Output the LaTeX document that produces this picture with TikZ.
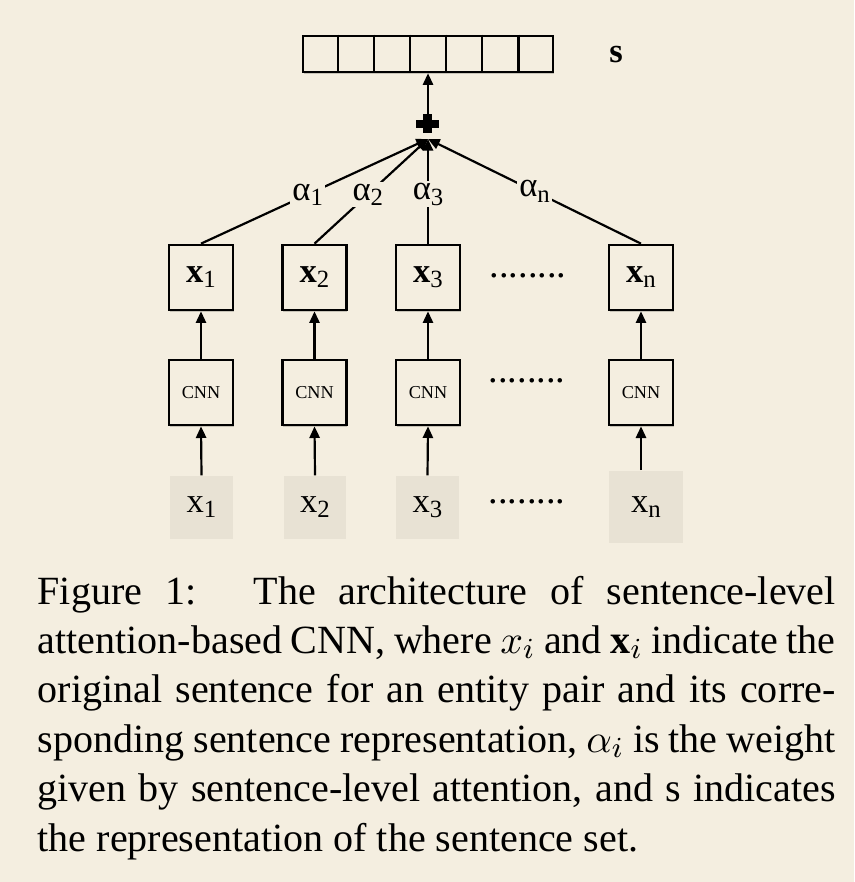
\documentclass[tikz,border=0pt]{standalone}
\usepackage{fontspec}
\setmainfont{Liberation Serif}
\usetikzlibrary{arrows.meta,shadows,calc}
\definecolor{bg}{HTML}{F4EEE0}
\definecolor{inbox}{HTML}{E8E2D4}
\newcommand{\subx}[1]{{\fontsize{6.8}{7}\selectfont\raisebox{-1.4pt}{#1}}}
\newcommand{\capline}[1]{\makebox[219.2pt][s]{#1}}
\begin{document}
\begin{tikzpicture}[x=0.2747pt,y=-0.2747pt,
  lw/.style={line width=0.6pt},
  arr/.style={lw,-{Triangle[length=3.2pt,width=2.8pt]}},
  shad/.style={drop shadow={shadow xshift=0.25pt,shadow yshift=-0.6pt,opacity=0.18,fill=black}},
  repbox/.style={draw,line width=0.7pt,fill=bg,shad,minimum width=17.6pt,minimum height=17.9pt,inner sep=0pt,font=\fontsize{9.5}{10}\selectfont},
  cnnbox/.style={repbox,font=\fontsize{5}{6}\selectfont},
  inbx/.style={fill=inbox,minimum width=17.3pt,minimum height=17.3pt,inner sep=0pt,font=\fontsize{9.5}{10}\selectfont},
  vecbox/.style={draw,line width=0.7pt,fill=bg,shad,minimum width=68.7pt,minimum height=9.9pt,inner sep=0pt},
  lab/.style={fill=bg,inner sep=0.6pt,font=\fontsize{9.5}{10}\selectfont},
  dotsn/.style={font=\fontsize{10.5}{11}\selectfont,inner sep=0pt},
  capn/.style={anchor=base west,inner sep=0pt,font=\fontsize{11}{13.6}\selectfont}]
\fill[bg] (0,0) rectangle (854,882);
\useasboundingbox (0,0) rectangle (854,882);

% sentence vector
\node[vecbox] (vec) at (428,54) {};
\foreach \i in {1,...,6}
  \draw[line width=0.7pt] ($(vec.north west)!\i/7!(vec.north east)$) -- ($(vec.south west)!\i/7!(vec.south east)$);
\node[font=\bfseries\fontsize{9.5}{10}\selectfont,inner sep=0pt] (s) at (616,55) {s};

% plus
\node[minimum width=5.8pt,minimum height=5pt,inner sep=0pt] (plus) at (428,124) {};
\fill (423,114) rectangle (432,133);
\fill (416,120) rectangle (439,128);
\coordinate (p) at (428,139);
\draw[arr] (plus.north) -- (vec.south);

% representation boxes
\node[repbox] (h1) at (201,277.5) {\textbf{x}\subx{1}};
\node[repbox] (h2) at (314.5,277.5) {\textbf{x}\subx{2}};
\node[repbox] (h3) at (428,277.5) {\textbf{x}\subx{3}};
\node[repbox] (h4) at (641,277.5) {\textbf{x}\subx{n}};

% CNN boxes
\node[cnnbox] (c1) at (201,392.5) {CNN};
\node[cnnbox] (c2) at (314.5,392.5) {CNN};
\node[cnnbox] (c3) at (428,392.5) {CNN};
\node[cnnbox] (c4) at (641,392.5) {CNN};

% input sentences
\node[inbx] (in1) at (201.5,507.5) {x\subx{1}};
\node[inbx] (in2) at (315,507.5) {x\subx{2}};
\node[inbx] (in3) at (427.5,507.5) {x\subx{3}};
\node[inbx,minimum width=20.3pt,minimum height=19.8pt] (in4) at (646,507) {x\subx{n}};

% dots
\node[dotsn] (d1) at (528,276) {........};
\node[dotsn] (d2) at (527,381) {........};
\node[dotsn] (d3) at (527,502) {........};

% arrows
\foreach \k in {1,2,3}{
  \draw[arr] (in\k.north) -- (c\k.south);
  \draw[arr] (c\k.north) -- (h\k.south);
}
\draw[arr] (in4.north -| c4.south) -- (c4.south);
\draw[arr] (c4.north) -- (h4.south);

\draw[arr] (h1.north) -- node[lab,pos=0.47] {α\subx{1}} (p);
\draw[arr] (h2.north) -- node[lab,pos=0.47] {α\subx{2}} (p);
\draw[arr] (h3.north) -- node[lab,pos=0.47] {α\subx{3}} (p);
\draw[arr] (h4.north) -- node[lab,pos=0.5] {α\subx{n}} (p);

% caption
\node[capn] (l1) at (37,604) {\capline{Figure~1:\hspace*{9.5pt} The architecture of sentence-level}};
\node[capn] (l2) at (37,653) {\capline{attention-based CNN, where $x_i$ and $\mathbf{x}_i$ indicate the}};
\node[capn] (l3) at (37,702.5) {\capline{original sentence for an entity pair and its corre-}};
\node[capn] (l4) at (37,752) {\capline{sponding sentence representation, $\alpha_i$ is the weight}};
\node[capn] (l5) at (37,801.5) {\capline{given by sentence-level attention, and s indicates}};
\node[capn] (l6) at (37,851) {the representation of the sentence set.};
\end{tikzpicture}
\end{document}
